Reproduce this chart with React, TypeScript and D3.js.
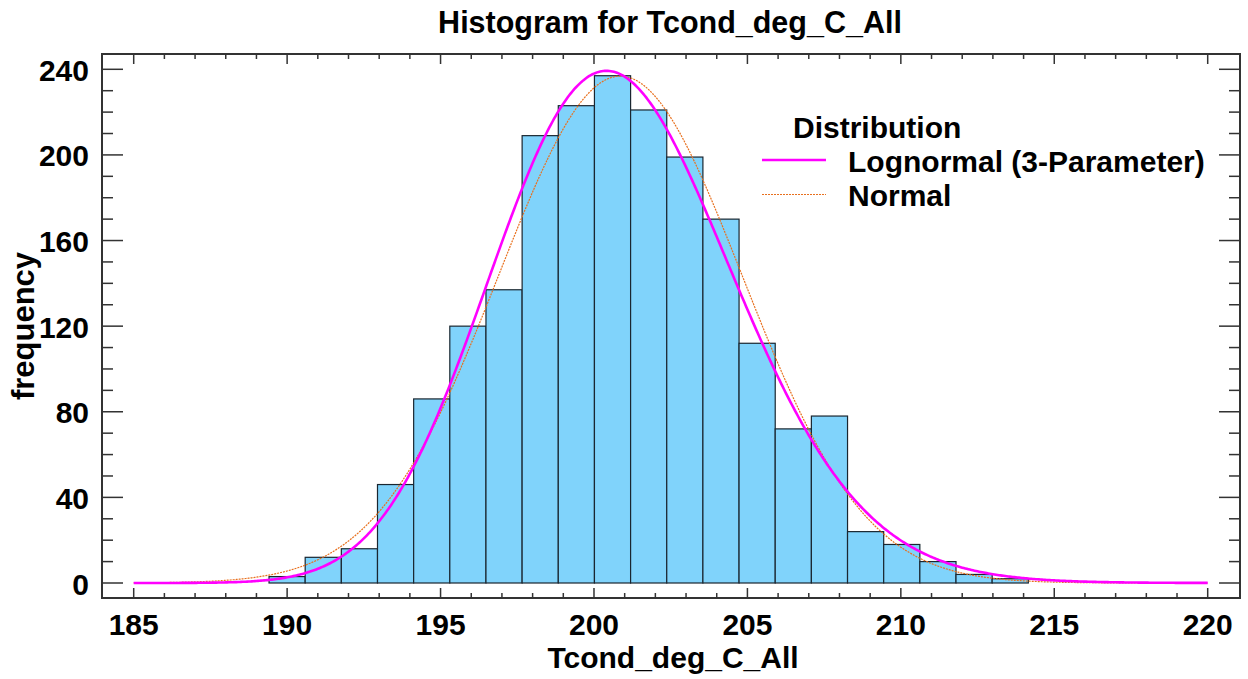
import React from "react";
import * as d3 from "d3";

// ---- data ----
const binStart = 189.41;
const binWidth = 1.1783;
const binCounts = [3, 12, 16, 46, 86, 120, 137, 209, 223, 237, 221, 199, 170, 112, 72, 78, 24, 18, 10, 4, 2];
const sampleSize = 2000;
const normalMean = 200.86;
const normalSd = 3.97;
const lognThreshold = 153.23;
const lognMu = Math.log(47.5);
const lognSigma = 0.083;
const xTicks = [185, 190, 195, 200, 205, 210, 215, 220];
const yTicks = [0, 40, 80, 120, 160, 200, 240];
const legendItems = ["Lognormal (3-Parameter)", "Normal"];

const W = 1248;
const H = 679;
const FONT = "'Liberation Sans', Arial, Helvetica, sans-serif";

export default function App() {
  const frame = { left: 102, right: 1240, top: 54, bottom: 598 };
  const x = d3.scaleLinear().domain([185, 220]).range([133.7, 1207.7]);
  const y = d3.scaleLinear().domain([0, 240]).range([583, 69.3]);

  const bins = binCounts.map((c, i) => ({ x0: binStart + i * binWidth, x1: binStart + (i + 1) * binWidth, c }));

  const scale = sampleSize * binWidth;
  const normalPdf = (v: number) =>
    Math.exp(-0.5 * ((v - normalMean) / normalSd) ** 2) / (normalSd * Math.sqrt(2 * Math.PI));
  const lognPdf = (v: number) => {
    const t = v - lognThreshold;
    if (t <= 0) return 0;
    const z = (Math.log(t) - lognMu) / lognSigma;
    return Math.exp(-0.5 * z * z) / (t * lognSigma * Math.sqrt(2 * Math.PI));
  };
  const grid = d3.range(185, 220.001, 0.05);
  const normalLine = d3
    .line<number>()
    .x((v) => x(v))
    .y((v) => y(scale * normalPdf(v)))(grid)!;
  const lognLine = d3
    .line<number>()
    .x((v) => x(v))
    .y((v) => y(scale * lognPdf(v)))(grid)!;

  const xMinor = d3.range(185, 221, 1);
  const yMinor = d3.range(0, 241, 10);
  const axisColor = "#333";
  const FS = 30;

  return (
    <svg width={W} height={H} style={{ position: "absolute", left: 0, top: 0, background: "#fff" }}>
      <text x={670} y={33} textAnchor="middle" fontFamily={FONT} fontWeight="bold" fontSize={30.5} fill="#000">
        Histogram for Tcond_deg_C_All
      </text>

      {/* bars */}
      {bins.map((b, i) => (
        <rect
          key={i}
          x={x(b.x0)}
          y={y(b.c)}
          width={x(b.x1) - x(b.x0)}
          height={y(0) - y(b.c)}
          fill="#80d3fb"
          stroke="#1a2630"
          strokeWidth={1.2}
        />
      ))}

      {/* curves */}
      <path d={normalLine} fill="none" stroke="#e8701e" strokeWidth={1.2} strokeDasharray="2,1" />
      <path d={lognLine} fill="none" stroke="#ff00ff" strokeWidth={2.6} />

      {/* frame */}
      <rect
        x={frame.left}
        y={frame.top}
        width={frame.right - frame.left}
        height={frame.bottom - frame.top}
        fill="none"
        stroke={axisColor}
        strokeWidth={2}
      />

      {/* x ticks bottom & top */}
      {xMinor.map((v) => {
        const major = v % 5 === 0;
        const len = major ? 10 : 5;
        return (
          <g key={"xt" + v} stroke={axisColor} strokeWidth={1.5}>
            <line x1={x(v)} x2={x(v)} y1={frame.bottom} y2={frame.bottom - len} />
            <line x1={x(v)} x2={x(v)} y1={frame.top} y2={frame.top + len} />
          </g>
        );
      })}
      {/* y ticks left & right */}
      {yMinor.map((v) => {
        const major = v % 40 === 0;
        const len = major ? 21 : 11;
        return (
          <g key={"yt" + v} stroke={axisColor} strokeWidth={1.5}>
            <line x1={frame.left} x2={frame.left + len} y1={y(v)} y2={y(v)} />
            <line x1={frame.right} x2={frame.right - len} y1={y(v)} y2={y(v)} />
          </g>
        );
      })}

      {/* tick labels */}
      {xTicks.map((v) => (
        <text key={"xl" + v} x={x(v)} y={635} textAnchor="middle" fontFamily={FONT} fontWeight="bold" fontSize={FS} fill="#000">
          {v}
        </text>
      ))}
      {yTicks.map((v) => (
        <text key={"yl" + v} x={89} y={y(v) + 11.5} textAnchor="end" fontFamily={FONT} fontWeight="bold" fontSize={FS} fill="#000">
          {v}
        </text>
      ))}

      {/* axis titles */}
      <text x={673} y={668} textAnchor="middle" fontFamily={FONT} fontWeight="bold" fontSize={FS} fill="#000">
        Tcond_deg_C_All
      </text>
      <text
        transform={`translate(34,${(frame.top + frame.bottom) / 2}) rotate(-90)`}
        textAnchor="middle"
        fontFamily={FONT}
        fontWeight="bold"
        fontSize={31}
        fill="#000"
      >
        frequency
      </text>

      {/* legend */}
      <text x={793} y={138} fontFamily={FONT} fontWeight="bold" fontSize={FS} fill="#000">
        Distribution
      </text>
      <line x1={762} x2={826} y1={160} y2={160} stroke="#ff00ff" strokeWidth={2.6} />
      <text x={848} y={172} fontFamily={FONT} fontWeight="bold" fontSize={FS} fill="#000">
        {legendItems[0]}
      </text>
      <line x1={762} x2={826} y1={194.5} y2={194.5} stroke="#e8701e" strokeWidth={1.2} strokeDasharray="2,1" />
      <text x={848} y={206} fontFamily={FONT} fontWeight="bold" fontSize={FS} fill="#000">
        {legendItems[1]}
      </text>
    </svg>
  );
}
